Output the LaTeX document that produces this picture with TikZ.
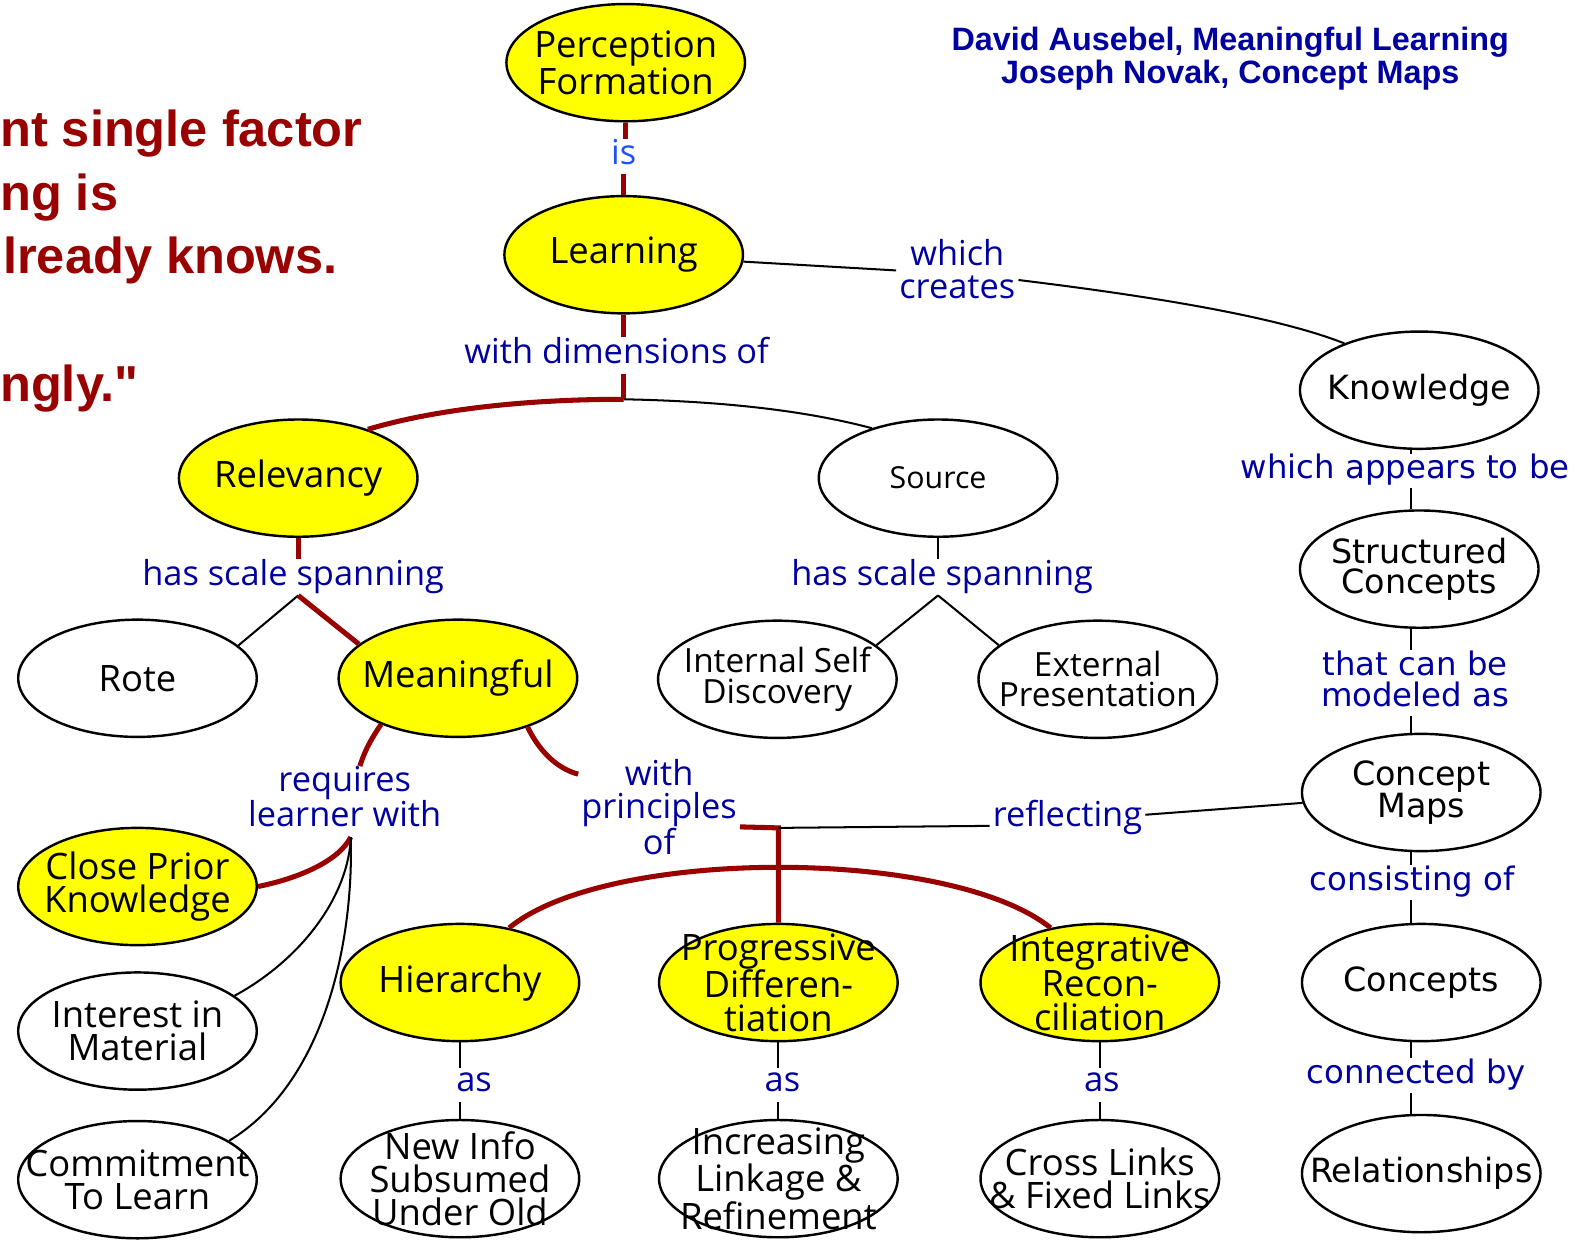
\documentclass[tikz,border=0pt]{standalone}
\usepackage{fontspec}
\setmainfont{Open Sans}
\newfontfamily\arialfont{Liberation Sans}
\newfontfamily\widefont{DejaVu Sans}
\usetikzlibrary{shapes.geometric}
\definecolor{cyellow}{RGB}{255,255,0}
\definecolor{dred}{RGB}{153,0,0}
\definecolor{lblue}{RGB}{0,0,160}
\definecolor{isblue}{RGB}{30,80,255}
\begin{document}
\begin{tikzpicture}[x=1pt,y=-1pt,
  cbase/.style={ellipse, draw=black, line width=2.4pt, minimum width=236pt, minimum height=116pt, inner sep=0pt},
  concept/.style={cbase, fill=white},
  yconcept/.style={cbase, fill=cyellow},
  ctext/.style={font=\fontsize{36}{33}\selectfont, align=center, inner sep=0pt, text=black},
  mtext/.style={font=\fontsize{33}{30}\selectfont, align=center, inner sep=0pt, text=black},
  stext/.style={font=\fontsize{30}{30}\selectfont, align=center, inner sep=0pt, text=black},
  wtext/.style={font=\widefont\fontsize{33}{30}\selectfont, align=center, inner sep=0pt, text=black},
  lnk/.style={font=\fontsize{34}{33}\selectfont, align=center, inner xsep=3pt, inner ysep=0pt, text=lblue, execute at begin node=\strut, execute at end node=\strut},
  wlnk/.style={lnk, font=\widefont\fontsize{32}{31}\selectfont},
  quote/.style={font=\arialfont\bfseries\fontsize{50}{50}\selectfont, text=dred, inner sep=0pt, anchor=base west},
  thinlink/.style={draw=black, line width=2pt},
  thicklink/.style={draw=dred, line width=5pt},
]
\useasboundingbox (0,0) rectangle (1568,1228);
\fill[white] (0,0) rectangle (1568,1228);

% quote fragments and authors
\node[quote] (q1) at (0,145) {nt single factor};
\node[quote] (q2) at (0,208) {ng is};
\node[quote] (q3) at (3,271) {lready knows.};
\node[quote] (q4) at (0,397) {ngly."};
\node[font=\arialfont\bfseries\fontsize{32}{33}\selectfont, text=lblue, align=center, inner sep=0pt] (auth) at (1217,58) {David Ausebel, Meaningful Learning\\Joseph Novak, Concept Maps};

% concepts
\node[yconcept, label={[ctext]center:{Perception\\Formation}}] (pf) at (619,62) {};
\node[yconcept, label={[ctext]center:{Learning}}] (lr) at (617,252) {};
\node[concept, label={[wtext]center:{Knowledge}}] (kn) at (1404,386) {};
\node[yconcept, label={[ctext]center:{Relevancy}}] (rel) at (295,473) {};
\node[concept, label={[stext]center:{Source}}] (src) at (928,473) {};
\node[concept, label={[wtext]center:{Structured\\Concepts}}] (sc) at (1404,563) {};
\node[concept, label={[ctext]center:{Rote}}] (rote) at (136,671) {};
\node[yconcept, label={[ctext]center:{Meaningful}}] (mf) at (453,671) {};
\node[concept, label={[mtext]center:{Internal Self\\Discovery}}] (isd) at (769,672) {};
\node[concept, label={[mtext]center:{External\\Presentation}}] (ep) at (1086,672) {};
\node[concept, label={[wtext]center:{Concept\\Maps}}] (cm) at (1406,784) {};
\node[yconcept, label={[ctext]center:{Close Prior\\Knowledge}}] (cpk) at (136,877) {};
\node[yconcept, label={[ctext]center:{Hierarchy}}] (hi) at (455,972) {};
\node[yconcept, label={[ctext]center:{Progressive\\Differen-\\tiation}}] (pd) at (770,972) {};
\node[yconcept, label={[ctext]center:{Integrative\\Recon-\\ciliation}}] (ig) at (1088,972) {};
\node[concept, label={[wtext]center:{Concepts}}] (cs) at (1406,972) {};
\node[concept, label={[ctext]center:{Interest in\\Material}}] (iim) at (136,1020) {};
\node[concept, label={[ctext]center:{Commitment\\To Learn}}] (cmt) at (136,1167) {};
\node[concept, label={[ctext]center:{New Info\\Subsumed\\Under Old}}] (ni) at (455,1166) {};
\node[concept, label={[ctext]center:{Increasing\\Linkage \&\\Refinement}}] (il) at (770,1166) {};
\node[concept, label={[ctext]center:{Cross Links\\\& Fixed Links}}] (cl) at (1088,1166) {};
\node[concept, label={[wtext]center:{Relationships}}] (rs) at (1406,1161) {};

% linking phrases
\node[lnk, text=isblue] (is) at (617,155) {is};
\node[lnk] (wc) at (947,271) {which\\creates};
\node[lnk] (wd) at (610,352) {with dimensions of};
\node[lnk] (hs1) at (290,571) {has scale spanning};
\node[lnk] (hs2) at (932,571) {has scale spanning};
\node[wlnk] (wa) at (1390,466) {which appears to be};
\node[wlnk] (tc) at (1400,676) {that can be\\modeled as};
\node[wlnk] (co) at (1397,873) {consisting of};
\node[wlnk] (cb) at (1401,1064) {connected by};
\node[lnk] (rq) at (341,793) {requires\\learner with};
\node[lnk] (wp) at (652,803) {with\\principles\\of};
\node[lnk] (rf) at (1056,810) {reflecting};
\node[lnk] (as1) at (469,1073) {as};
\node[lnk] (as2) at (774,1073) {as};
\node[lnk] (as3) at (1090,1073) {as};

% junctions
\coordinate (rx) at (1396,0);
\coordinate (j1) at (617,395);
\coordinate (j2) at (rel.south |- hs1.south);
\coordinate (j3) at (src.south |- hs2.south);
\coordinate (j4) at ([xshift=6pt]rq.south);
\coordinate (j5) at (770,819);

% Perception Formation -is- Learning
\draw[thicklink] (pf.south) -- (pf.south |- is.north);
\draw[thicklink] (lr.north |- is.south) -- (lr.north);
% Learning -which creates- Knowledge
\draw[thinlink] (lr) -- (wc);
\draw[thinlink] ([yshift=-6pt]wc.east) .. controls (1130,292) and (1260,312) .. (kn.148);
% Learning -with dimensions of- Relevancy, Source
\draw[thicklink] (lr.south) -- (lr.south |- wd.north);
\draw[thicklink] (lr.south |- wd.south) -- (j1);
\draw[thicklink] (j1) .. controls (520,395) and (430,405) .. (rel.35);
\draw[thinlink] (j1) .. controls (720,397) and (800,407) .. (src.143);
% Relevancy -has scale spanning- Rote, Meaningful
\draw[thicklink] (rel.south) -- (rel.south |- hs1.north);
\draw[thinlink] (j2) -- (rote.18);
\draw[thicklink] (j2) -- (mf.161);
% Source -has scale spanning- Internal, External
\draw[thinlink] (src.south) -- (src.south |- hs2.north);
\draw[thinlink] (j3) -- (isd.19);
\draw[thinlink] (j3) -- (ep.161);
% right column
\draw[thinlink] (kn.south -| rx) -- (wa.north -| rx);
\draw[thinlink] (wa.south -| rx) -- (sc.north -| rx);
\draw[thinlink] (sc.south -| rx) -- (tc.north -| rx);
\draw[thinlink] (tc.south -| rx) -- (cm.north -| rx);
\draw[thinlink] (cm.south -| rx) -- (co.north -| rx);
\draw[thinlink] (co.south -| rx) -- (cs.north -| rx);
\draw[thinlink] (cs.south -| rx) -- (cb.north -| rx);
\draw[thinlink] (cb.south -| rx) -- (rs.north -| rx);
% Meaningful -requires learner with-
\draw[thicklink] (mf.211) .. controls (362,738) and (358,752) .. ([xshift=15pt]rq.north);
\draw[thicklink] (j4) .. controls (335,852) and (295,869) .. (cpk.east);
\draw[thinlink] (j4) .. controls (345,885) and (300,948) .. (iim.20);
\draw[thinlink] (j4) .. controls (350,935) and (320,1072) .. (cmt.23);
% Meaningful -with principles of-
\draw[thicklink] (mf.-35) .. controls (533,742) and (550,760) .. ([yshift=-15pt]wp.north west);
\draw[thicklink] ([yshift=-15pt]wp.east) -- (j5) -- (pd.north);
\draw[thicklink] (hi.48) .. controls (600,838) and (940,838) .. (ig.132);
% reflecting
\draw[thinlink] (j5) -- ([yshift=-7pt]rf.west);
\draw[thinlink] ([yshift=4pt]rf.east) -- (cm.185);
% as links
\draw[thinlink] (hi.south) -- (hi.south |- as1.north);
\draw[thinlink] (hi.south |- as1.south) -- (ni.north);
\draw[thinlink] (pd.south) -- (pd.south |- as2.north);
\draw[thinlink] (pd.south |- as2.south) -- (il.north);
\draw[thinlink] (ig.south) -- (ig.south |- as3.north);
\draw[thinlink] (ig.south |- as3.south) -- (cl.north);
\end{tikzpicture}
\end{document}
